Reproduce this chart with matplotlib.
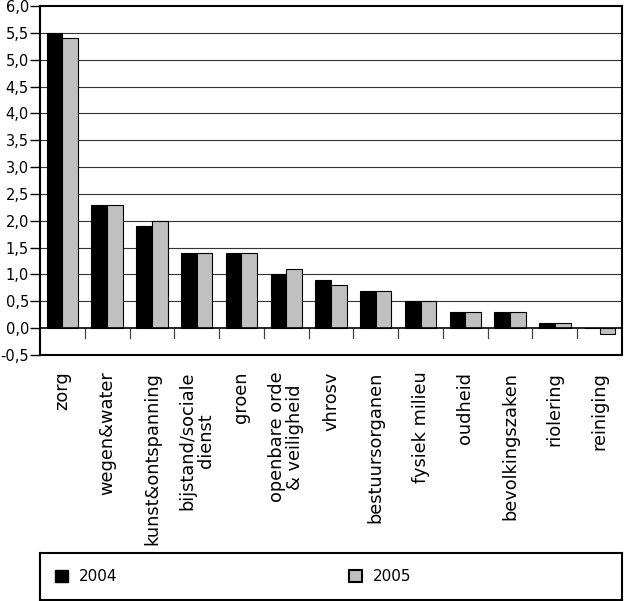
import matplotlib

matplotlib.use("Agg")

import matplotlib.pyplot as plt
import numpy as np
from matplotlib.patches import Patch

plt.rcParams["font.family"] = ["DejaVu Sans"]

CATEGORIES = [
    "zorg",
    "wegen&water",
    "kunst&ontspanning",
    "bijstand/sociale\ndienst",
    "groen",
    "openbare orde\n& veiligheid",
    "vhrosv",
    "bestuursorganen",
    "fysiek milieu",
    "oudheid",
    "bevolkingszaken",
    "riolering",
    "reiniging",
]
VALUES_2004 = [5.5, 2.3, 1.9, 1.4, 1.4, 1.0, 0.9, 0.7, 0.5, 0.3, 0.3, 0.1, 0.0]
VALUES_2005 = [5.4, 2.3, 2.0, 1.4, 1.4, 1.1, 0.8, 0.7, 0.5, 0.3, 0.3, 0.1, -0.1]
SERIES_LABELS = ["2004", "2005"]
Y_TICKS = [-0.5, 0.0, 0.5, 1.0, 1.5, 2.0, 2.5, 3.0, 3.5, 4.0, 4.5, 5.0, 5.5, 6.0]

W, H = 624, 601
fig = plt.figure(figsize=(W / 100, H / 100), dpi=100)
ax = fig.add_axes([40 / W, (H - 355) / H, 582 / W, 349 / H])

x = np.arange(len(CATEGORIES))
bar_w = 0.35
ax.bar(x - bar_w / 2, VALUES_2004, bar_w, color="black", edgecolor="black",
       linewidth=0.8, zorder=3)
ax.bar(x + bar_w / 2, VALUES_2005, bar_w, color="#c0c0c0", edgecolor="black",
       linewidth=0.8, zorder=3)

ax.set_xlim(-0.5, len(CATEGORIES) - 0.5)
ax.set_ylim(-0.5, 6.0)
ax.set_yticks(Y_TICKS)
ax.set_yticklabels([f"{v:.1f}".replace(".", ",") for v in Y_TICKS], fontsize=10.5)
ax.tick_params(axis="y", length=7, width=1, pad=1)

for yv in Y_TICKS[2:-1]:
    ax.axhline(yv, color="#333333", linewidth=0.8, zorder=1)
ax.axhline(0, color="black", linewidth=1.2, zorder=4)

# category separators below the zero line
for b in x[:-1] + 0.5:
    ax.plot([b, b], [0, -0.19], color="#444444", linewidth=0.9, zorder=2)

ax.set_xticks(x)
ax.set_xticklabels(CATEGORIES, rotation=90, fontsize=12.8, va="top",
                   ha="center", multialignment="center", linespacing=1.0)
ax.tick_params(axis="x", length=0, pad=12)

for s in ax.spines.values():
    s.set_linewidth(1.5)

# legend box
lax = fig.add_axes([40 / W, (H - 600) / H, 582 / W, 47 / H])
lax.set_xticks([])
lax.set_yticks([])
for s in lax.spines.values():
    s.set_linewidth(1.5)
handles = [
    Patch(facecolor="black", edgecolor="black", label=SERIES_LABELS[0]),
    Patch(facecolor="#c0c0c0", edgecolor="black", linewidth=1.5,
          label=SERIES_LABELS[1]),
]
lax.legend(handles=handles, loc="center left", ncol=2, frameon=False,
           fontsize=11, handlelength=0.82, handleheight=0.82, handletextpad=0.7,
           columnspacing=15.2, borderaxespad=0.6)

fig.savefig("out.png", dpi=100)
